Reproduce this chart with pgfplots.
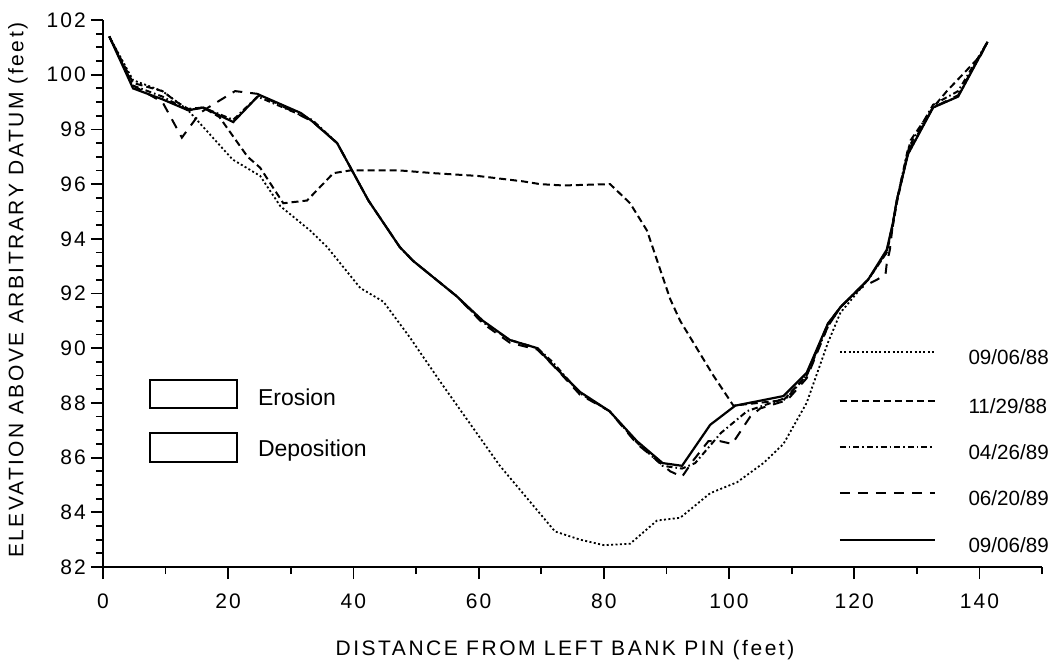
\documentclass[border=0pt]{standalone}
\usepackage{fontspec}
\setmainfont{Liberation Sans}
\newfontfamily\spaced[LetterSpace=12]{Liberation Sans}
\newfontfamily\tickfont[LetterSpace=10]{Liberation Sans}
\usepackage{pgfplots}
\pgfplotsset{compat=1.18}
\usetikzlibrary{calc}

\begin{document}
\begin{tikzpicture}
\begin{axis}[
  scale only axis,
  width=469.5pt, height=273.5pt,
  xmin=0, xmax=150, ymin=82, ymax=102,
  axis x line*=bottom, axis y line*=left,
  axis line style={line width=1.1pt,-},
  xtick={0,20,...,140}, minor xtick={10,30,...,150},
  ytick={82,84,...,102}, minor y tick num=3,
  tick align=outside,
  major tick length=6pt, minor tick length=3.5pt,
  every tick/.style={black, line width=0.9pt},
  /pgf/number format/assume math mode=true,
  ticklabel style={font=\tickfont\fontsize{10.5}{12}\selectfont},
  xticklabel style={yshift=-4pt},
  yticklabel style={xshift=1pt},
  xlabel={DISTANCE FROM LEFT BANK PIN (feet)},
  ylabel={ELEVATION ABOVE ARBITRARY DATUM (feet)},
  label style={font=\spaced\fontsize{10.5}{12}\selectfont},
  xlabel style={at={(axis description cs:0.492,-0.152)}, anchor=center},
  ylabel style={at={(axis description cs:-0.0905,0.506)}, anchor=center},
  clip=false,
]
% 09/06/88 dotted
\addplot[black, line width=0.9pt, dash pattern=on 1pt off 1.2pt] coordinates {
(1,101.4) (4.8,99.8) (9.5,99.4) (13.6,98.7) (20.7,96.9) (25.1,96.3) (28.3,95.2)
(33.1,94.3) (35.8,93.7) (41.1,92.2) (44.8,91.7) (49.0,90.4) (53.8,88.8) (63.4,85.7)
(72.2,83.3) (76.2,83.0) (80,82.8) (84.2,82.85) (88.5,83.7) (92.2,83.8) (97,84.7)
(101.3,85.1) (105.5,85.8) (108.7,86.5) (112.4,88.0) (115.8,90.2) (117.8,91.3)
(122.2,92.5) (125.2,93.5) (126.2,94.6) (126.8,95.4) (128.6,97.1) (132.6,98.8)
(136.6,99.2) (141.3,101.2)};
% 11/29/88 medium dash
\addplot[black, line width=1pt, dash pattern=on 3.5pt off 2pt] coordinates {
(1,101.4) (4.8,99.7) (9.5,99.4) (11.8,99.0) (13.6,98.75) (16,98.8) (18.6,98.45)
(23.1,97.0) (25.1,96.6) (28.8,95.3) (32.6,95.4) (36.8,96.4) (39.5,96.5) (47.4,96.5)
(52.8,96.4) (59.8,96.3) (67.1,96.1) (69.8,96.0) (73.5,95.95) (81,96.0) (84.2,95.3)
(86.9,94.3) (90.6,91.8) (92.2,91.0) (97.5,89.0) (100.7,87.9) (108.7,88.1)
(112.4,89.0) (115.8,90.9) (117.8,91.5) (122.2,92.5) (125.2,93.5) (126.2,94.5)
(126.8,95.3) (129,97.6) (132.6,98.8) (134.8,99.4) (140.2,100.7) (141.3,101.2)};
% 04/26/89 dash-dot
\addplot[black, line width=1pt, dash pattern=on 3pt off 1.5pt on 0.8pt off 1.5pt] coordinates {
(1,101.4) (4.8,99.6) (9.5,99.2) (13.6,98.7) (16,98.8) (20.8,98.35) (24.7,99.2)
(33.4,98.35) (37.4,97.5) (42.4,95.4) (47.4,93.7) (49.5,93.2) (56.5,91.9) (60.7,90.95)
(65,90.3) (69.4,90.0) (71.8,89.5) (76.2,88.35) (80.9,87.7) (85.3,86.55) (89.4,85.7)
(92.5,85.6) (94.6,85.8) (98.7,86.9) (102.9,87.7) (109.3,88.2) (112.4,89.0)
(115.8,90.8) (117.8,91.5) (122.2,92.5) (125.2,93.55) (126.2,94.6) (126.8,95.4)
(128.6,97.3) (132.6,98.9) (136.6,99.4) (141.3,101.2)};
% 06/20/89 long dash
\addplot[black, line width=1pt, dash pattern=on 5pt off 4pt] coordinates {
(1,101.4) (4.8,99.6) (9.5,99.0) (12.6,97.7) (15.5,98.6) (16.8,98.8) (21.1,99.4)
(24.7,99.3) (33.4,98.3) (37.4,97.5) (42.4,95.4) (47.4,93.7) (49.5,93.2) (56.5,91.9)
(60.7,90.9) (65,90.2) (69.4,89.95) (71.8,89.4) (76.2,88.3) (80.9,87.7) (85.3,86.5)
(86.9,86.2) (90.6,85.5) (92.5,85.3) (94.3,85.9) (96.7,86.6) (98.6,86.6) (100.5,86.5)
(103.4,87.5) (105,87.8) (109.3,88.1) (112.4,88.9) (115.8,90.8) (117.8,91.5)
(121,92.2) (123.6,92.5) (125,92.7) (125.2,93.1) (125.7,93.6) (126.2,94.6)
(126.8,95.4) (128.6,97.2) (132.6,98.8) (136.6,99.25) (141.3,101.2)};
% 09/06/89 solid
\addplot[black, line width=1.1pt] coordinates {
(1,101.4) (4.8,99.5) (9.5,99.1) (13.6,98.7) (16,98.8) (20.8,98.27) (24.7,99.2)
(25.1,99.25) (31.6,98.6) (33.4,98.3) (37.4,97.5) (42.4,95.4) (47.4,93.7) (49.5,93.2)
(56.5,91.9) (60.7,91.0) (65,90.3) (69.4,90.0) (71.8,89.4) (76.2,88.4) (80.9,87.7)
(85.3,86.6) (89.4,85.8) (92.5,85.7) (97,87.2) (101,87.9) (108.7,88.25) (112.4,89.1)
(115.8,90.9) (117.8,91.5) (122.2,92.5) (125.2,93.6) (126.2,94.6) (126.8,95.4)
(128.6,97.1) (132.6,98.8) (136.6,99.2) (141.3,101.2)};

% Legend (line samples and labels)
\begin{scope}[every node/.style={anchor=west, inner sep=0pt, font=\fontsize{10.3}{12}\selectfont}]
\draw[black, line width=0.9pt, dash pattern=on 1pt off 1.2pt] (axis cs:117.7,89.86) -- (axis cs:132.9,89.86);
\node at (axis cs:138.2,89.66) {09/06/88};
\draw[black, line width=1pt, dash pattern=on 3.5pt off 2pt] (axis cs:117.7,88.07) -- (axis cs:132.9,88.07);
\node at (axis cs:138.2,87.87) {11/29/88};
\draw[black, line width=1pt, dash pattern=on 3pt off 1.5pt on 0.8pt off 1.5pt] (axis cs:117.7,86.39) -- (axis cs:132.9,86.39);
\node at (axis cs:138.2,86.19) {04/26/89};
\draw[black, line width=1pt, dash pattern=on 5pt off 4pt] (axis cs:117.7,84.7) -- (axis cs:132.9,84.7);
\node at (axis cs:138.2,84.5) {06/20/89};
\draw[black, line width=1.1pt] (axis cs:117.7,83.0) -- (axis cs:132.9,83.0);
\node at (axis cs:138.2,82.8) {09/06/89};
\end{scope}

% Erosion / Deposition key
\draw[line width=0.8pt] (axis cs:7.5,88.84) rectangle (axis cs:21.4,87.81);
\node[anchor=west, inner sep=0pt, font=\fontsize{11.5}{13}\selectfont] at (axis cs:24.7,88.2) {Erosion};
\draw[line width=0.8pt] (axis cs:7.5,86.9) rectangle (axis cs:21.4,85.84);
\node[anchor=west, inner sep=0pt, font=\fontsize{11.5}{13}\selectfont] at (axis cs:24.7,86.25) {Deposition};

\coordinate (ll) at (rel axis cs:0,0);
\coordinate (ur) at (rel axis cs:1,1);
\end{axis}
\pgfresetboundingbox
\path ($(ll)+(-51.5pt,-49pt)$) rectangle ($(ur)+(8.5pt,10pt)$);
\end{tikzpicture}
\end{document}
